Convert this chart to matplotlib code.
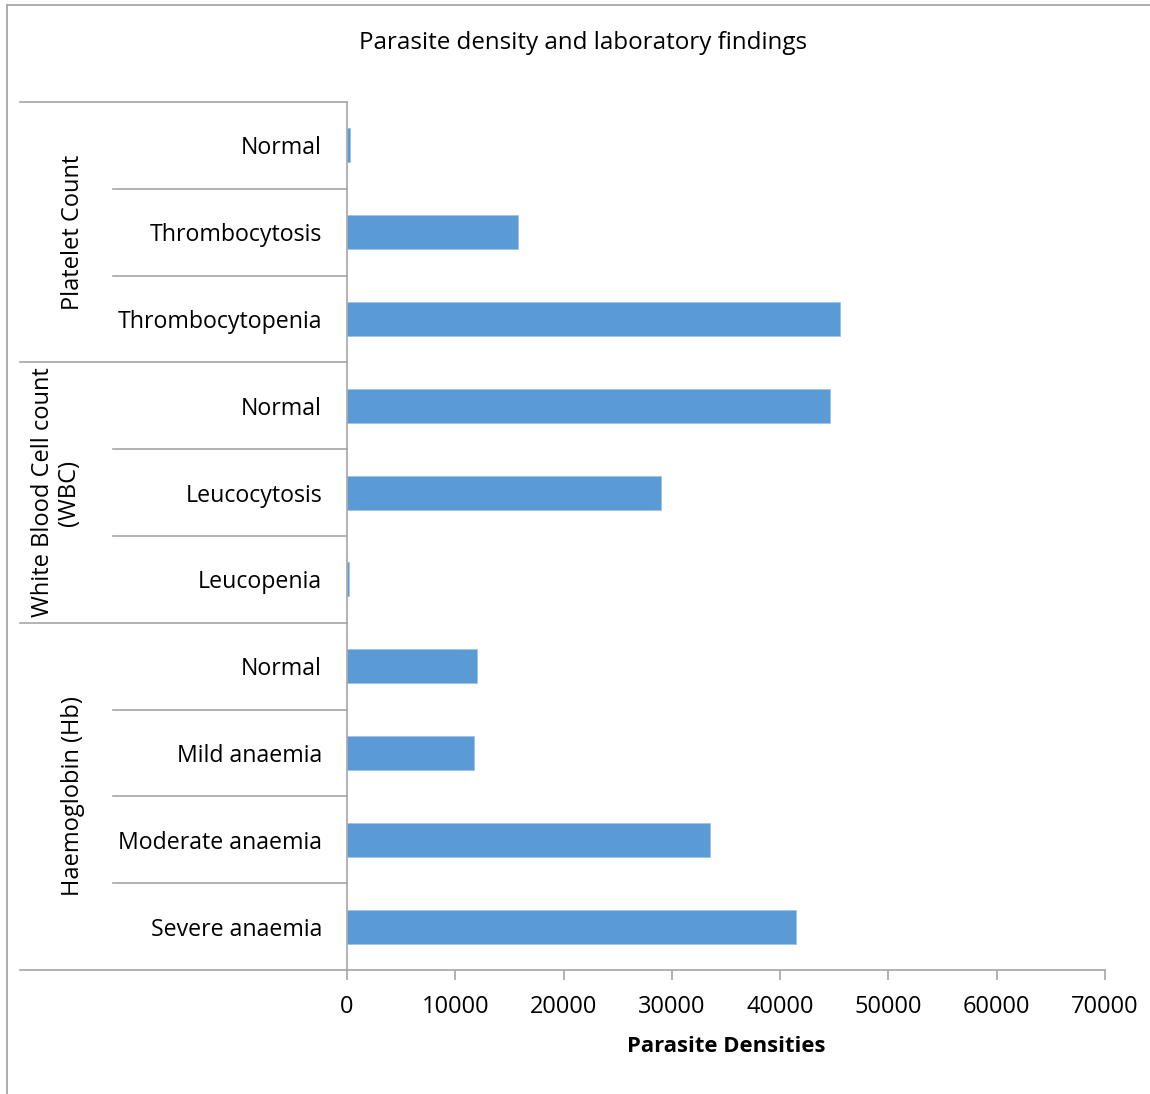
import matplotlib
matplotlib.use("Agg")
import matplotlib.pyplot as plt
from matplotlib import transforms
from matplotlib.lines import Line2D

plt.rcParams['font.family'] = ['Open Sans', 'DejaVu Sans']

# Categories listed top to bottom
groups = ["Platelet Count", "White Blood Cell count\n(WBC)", "Haemoglobin (Hb)"]
group_sizes = [3, 3, 4]
categories = ["Normal", "Thrombocytosis", "Thrombocytopenia",
              "Normal", "Leucocytosis", "Leucopenia",
              "Normal", "Mild anaemia", "Moderate anaemia", "Severe anaemia"]
densities = [300, 15770, 45560,
             44580, 29040, 200,
             11960, 11770, 33500, 41470]
x_ticks = [0, 10000, 20000, 30000, 40000, 50000, 60000, 70000]

W, H = 1150, 1094
fig = plt.figure(figsize=(W / 100, H / 100), dpi=100)
fig.patch.set_facecolor("white")

# plot area in pixels
left, right, top, bottom = 347, 1105, 102, 970
ax = fig.add_axes([left / W, 1 - bottom / H, (right - left) / W, (bottom - top) / H])

bar_color = "#5B9BD5"
axis_color = "#A6A6A6"

y = list(range(len(categories)))
ax.barh(y, densities, height=0.39, color=bar_color, edgecolor="#9DC3E6", linewidth=0.6)

ax.set_xlim(0, 70000)
ax.set_ylim(len(categories) - 0.5, -0.5)

for s in ["top", "right"]:
    ax.spines[s].set_visible(False)
ax.spines["left"].set_color(axis_color)
ax.spines["bottom"].set_color(axis_color)
ax.spines["left"].set_linewidth(1.2)
ax.spines["bottom"].set_linewidth(1.2)

ax.set_xticks(x_ticks)
ax.set_xticklabels([str(v) for v in x_ticks], fontsize=17)
ax.tick_params(axis="x", direction="out", length=7, width=1.2, color=axis_color, pad=11)

ax.set_yticks(y)
ax.set_yticklabels(categories, fontsize=16.7)
ax.tick_params(axis="y", length=0, pad=18)

ax.set_xlabel("Parasite Densities", fontsize=15.8, fontweight="bold", labelpad=12)

# multi-level category axis: separators from the label area to the axis
trans = transforms.blended_transform_factory(fig.transFigure, ax.transData)
bounds_outer = [-0.5]
acc = 0
for n in group_sizes:
    acc += n
    bounds_outer.append(acc - 0.5)
inner_bounds = [k + 0.5 for k in range(len(categories) - 1) if (k + 0.5) not in bounds_outer]

for b in bounds_outer:
    ax.add_line(Line2D([20 / W, left / W], [b, b], transform=trans, color=axis_color,
                       linewidth=1.2, clip_on=False))
for b in inner_bounds:
    ax.add_line(Line2D([113 / W, left / W], [b, b], transform=trans, color=axis_color,
                       linewidth=1.2, clip_on=False))

# group labels, rotated
start = 0
for g, n in zip(groups, group_sizes):
    mid = start + (n - 1) / 2
    xg = 73 / W if "\n" not in g else 56 / W
    ax.text(xg, mid, g, transform=trans, rotation=90,
            ha="center", va="center", fontsize=17, linespacing=1.15)
    start += n

fig.text(583 / W, 1 - 43 / H, "Parasite density and laboratory findings",
         ha="center", va="center", fontsize=17.4)

# chart frame
fig.add_artist(Line2D([7 / W, 7 / W], [0, 1 - 5 / H], transform=fig.transFigure,
                      color=axis_color, linewidth=1.3))
fig.add_artist(Line2D([7 / W, 1], [1 - 5 / H, 1 - 5 / H], transform=fig.transFigure,
                      color=axis_color, linewidth=1.3))

fig.savefig("out.png", dpi=100, facecolor="white")
